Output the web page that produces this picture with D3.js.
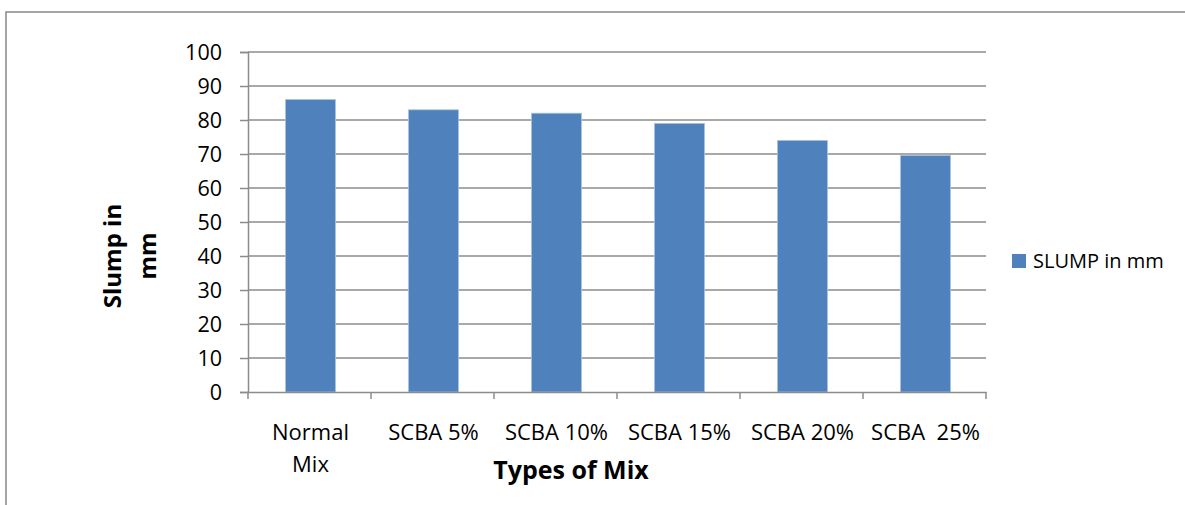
<!DOCTYPE html>
<html><head><meta charset="utf-8">
<script src="https://cdn.jsdelivr.net/npm/d3@7"></script>
<style>body{margin:0;background:#fff}svg{display:block}</style>
</head><body>
<script>
const categories = [["Normal","Mix"],["SCBA 5%"],["SCBA 10%"],["SCBA 15%"],["SCBA 20%"],["SCBA  25%"]];
const slump = [86, 83, 82, 79, 74, 69.6];
const yTicks = [0,10,20,30,40,50,60,70,80,90,100];
const seriesName = "SLUMP in mm";
const xTitle = "Types of Mix";
const yTitle = ["Slump in","mm"];

(function(){
const W = 1185, H = 505;
const font = "'Open Sans', sans-serif";
const svg = d3.select("body").append("svg").attr("width", W).attr("height", H);

svg.append("rect").attr("x",6).attr("y",12).attr("width",W+10).attr("height",H+10)
  .attr("fill","#fff").attr("stroke","#888").attr("stroke-width",1.5);

const pL = 248, pR = 986, pT = 52, pB = 392;
const x = d3.scaleBand().domain(d3.range(categories.length)).range([pL, pR]).padding(0);
const y = d3.scaleLinear().domain([0, 100]).range([pB, pT]);

// gridlines
svg.append("g").selectAll("line").data(yTicks.filter(d=>d>0)).join("line")
  .attr("x1", pL).attr("x2", pR).attr("y1", d=>y(d)).attr("y2", d=>y(d))
  .attr("stroke","#8c8c8c").attr("stroke-width",1.5);

// y axis
const yAxis = svg.append("g").attr("transform",`translate(${pL},0)`)
  .call(d3.axisLeft(y).tickValues(yTicks).tickSize(8).tickPadding(18));
yAxis.select(".domain").attr("stroke","#8c8c8c").attr("stroke-width",1.5);
yAxis.selectAll(".tick line").attr("stroke","#8c8c8c").attr("stroke-width",1.5);
yAxis.selectAll("text").attr("font-family",font).attr("font-size",21.5).attr("fill","#000").attr("dy","0.36em");

// bars
const bw = 50;
svg.append("g").selectAll("rect").data(slump).join("rect")
  .attr("x",(d,i)=>x(i)+x.bandwidth()/2-bw/2+1).attr("width",bw)
  .attr("y",d=>y(d)).attr("height",d=>pB-y(d))
  .attr("fill","#4f81bd").attr("stroke","#a9c2e2").attr("stroke-width",0.8);

// x axis
const xAxis = svg.append("g").attr("transform",`translate(0,${pB})`)
  .call(d3.axisBottom(x).tickSize(0).tickFormat(""));
xAxis.select(".domain").attr("stroke","#8c8c8c").attr("stroke-width",1.5);
xAxis.selectAll(".tick").remove();
const bounds = d3.range(categories.length+1).map(i=> i<categories.length ? x(i) : pR);
svg.append("g").selectAll("line").data(bounds).join("line")
  .attr("x1",d=>d).attr("x2",d=>d).attr("y1",pB).attr("y2",pB+7)
  .attr("stroke","#8c8c8c").attr("stroke-width",1.5);

// category labels
const lab = svg.append("g").selectAll("text").data(categories).join("text")
  .attr("x",(d,i)=>x(i)+x.bandwidth()/2+1).attr("y",439.5)
  .attr("text-anchor","middle").attr("font-family",font).attr("font-size",22).attr("fill","#000")
  .style("white-space","pre");
lab.selectAll("tspan").data(d=>d).join("tspan")
  .attr("x",function(){return this.parentNode.getAttribute("x");})
  .attr("dy",(d,i)=>i===0?0:32).text(d=>d);

// x title
svg.append("text").attr("x",571).attr("y",478.5).attr("text-anchor","middle")
  .attr("font-family",font).attr("font-size",25).attr("font-weight","bold").text(xTitle);

// y title
const yt = svg.append("text").attr("transform","translate(121,256) rotate(-90)")
  .attr("text-anchor","middle").attr("font-family",font).attr("font-size",24).attr("font-weight","bold");
yt.selectAll("tspan").data(yTitle).join("tspan").attr("x",0).attr("dy",(d,i)=>i===0?0:35).text(d=>d);

// legend
svg.append("rect").attr("x",1012).attr("y",254).attr("width",14).attr("height",14).attr("fill","#4f81bd");
svg.append("text").attr("x",1033).attr("y",268).attr("font-family",font).attr("font-size",20).attr("fill","#000").text(seriesName);
})();
</script>
</body></html>
